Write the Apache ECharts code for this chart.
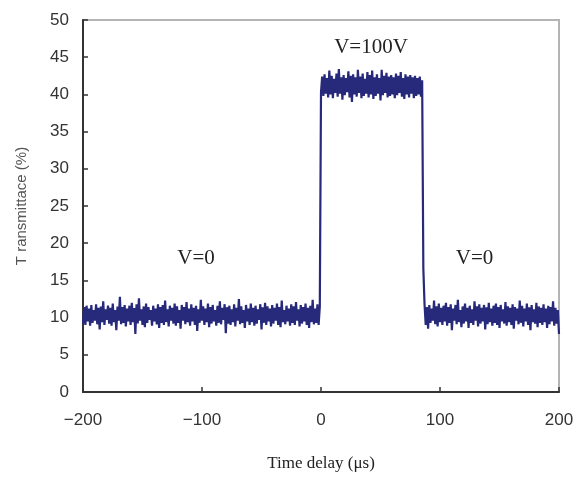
<!DOCTYPE html>
<html>
<head>
<meta charset="utf-8">
<script src="https://cdn.jsdelivr.net/npm/echarts@6/dist/echarts.min.js"></script>
<style>
html,body{margin:0;padding:0;background:#fff;}
#chart{width:579px;height:479px;}
</style>
</head>
<body>
<div id="chart"></div>
<script>
// Time axis ticks (µs) and transmittance tick labels
var xTicks = [-200, -100, 0, 100, 200];
var yTicks = [0, 5, 10, 15, 20, 25, 30, 35, 40, 45, 50];

var offStart = -200; // V=0, t = -200 .. -1
var offBefore = [
9.2, 11.4, 9.0, 11.6, 9.5, 11.2, 8.9, 11.7, 9.3, 11.0, 9.6, 11.8, 9.1, 11.3, 8.4, 11.5, 9.4, 12.2, 9.0, 11.1,
9.7, 11.6, 9.2, 11.3, 8.9, 11.9, 9.4, 11.0, 8.3, 11.5, 9.6, 12.8, 9.1, 11.4, 9.3, 11.7, 8.8, 11.2, 9.5, 11.6,
9.0, 12.0, 9.4, 11.3, 7.8, 11.8, 9.2, 12.6, 9.6, 11.1, 9.0, 11.5, 8.7, 11.9, 9.3, 11.4, 9.7, 11.0, 8.9, 11.6,
9.5, 11.2, 9.1, 11.8, 8.6, 11.4, 9.3, 11.7, 9.0, 12.3, 9.4, 11.1, 8.8, 11.6, 9.6, 11.3, 9.2, 11.9, 8.9, 11.5,
9.3, 11.0, 8.5, 11.7, 9.6, 11.4, 9.1, 12.1, 9.4, 11.2, 8.9, 11.8, 9.5, 11.3, 9.0, 11.6, 8.2, 11.1, 9.3, 12.4,
9.6, 11.5, 9.0, 11.2, 9.4, 11.9, 8.7, 11.4, 9.2, 11.7, 9.5, 11.0, 8.9, 11.6, 9.3, 12.2, 9.1, 11.3, 9.7, 11.8,
7.9, 11.4, 9.2, 11.6, 9.0, 11.1, 9.4, 11.8, 8.8, 11.3, 9.6, 12.5, 9.1, 11.5, 9.3, 11.0, 8.6, 11.7, 9.5, 11.2,
9.0, 11.9, 9.4, 11.3, 8.9, 11.6, 9.2, 11.1, 9.7, 11.8, 8.4, 11.4, 9.3, 12.0, 9.0, 11.5, 9.5, 11.2, 8.8, 11.7,
9.2, 11.3, 9.6, 11.9, 9.0, 11.4, 8.7, 12.3, 9.4, 11.0, 9.1, 11.6, 9.5, 11.2, 8.9, 11.8, 9.3, 11.5, 9.0, 12.1,
9.6, 11.1, 8.8, 11.7, 9.2, 11.4, 9.5, 11.9, 9.0, 11.3, 8.6, 11.6, 9.4, 12.4, 9.1, 11.2, 9.3, 11.8, 9.0, 11.5
];
var onStart = 0; // V=100V, t = 0 .. 85
var onPulse = [
40.3, 42.4, 39.8, 42.7, 40.1, 42.2, 39.6, 43.2, 40.0, 42.5, 39.5, 42.1, 40.2, 42.8, 39.7, 43.4, 40.1, 42.3, 39.3, 42.6,
39.9, 42.2, 40.3, 43.1, 39.6, 42.5, 39.0, 42.7, 40.0, 42.3, 39.7, 43.3, 40.2, 42.4, 39.5, 42.8, 39.8, 42.1, 40.1, 43.0,
39.6, 42.6, 40.0, 43.2, 39.4, 42.3, 39.8, 42.7, 40.1, 42.2, 39.2, 43.3, 39.9, 42.5, 40.2, 42.9, 39.6, 42.4, 39.8, 42.6,
40.0, 42.3, 39.5, 42.8, 39.9, 42.5, 40.2, 43.0, 39.7, 42.2, 39.4, 42.7, 40.0, 42.4, 39.6, 42.6, 40.1, 42.3, 39.5, 42.5,
39.8, 42.2, 40.0, 42.4, 39.7, 41.9
];
var offAfterStart = 86; // V=0, t = 86 .. 200
var offAfter = [
16.6, 11.8, 9.0, 11.4, 8.5, 11.7, 9.3, 11.2, 9.6, 12.3, 9.1, 11.5, 8.8, 11.9, 9.4, 11.3, 9.0, 11.6, 9.5, 12.0,
8.9, 11.4, 9.3, 11.8, 8.3, 11.2, 9.6, 11.7, 9.1, 12.4, 9.4, 11.0, 8.7, 11.5, 9.2, 11.9, 9.5, 11.3, 8.6, 11.6,
9.3, 11.1, 9.0, 12.2, 9.6, 11.5, 8.8, 11.8, 9.2, 11.3, 9.5, 11.7, 8.4, 11.4, 9.1, 12.0, 9.4, 11.2, 8.9, 11.6,
9.3, 11.9, 9.0, 11.4, 8.6, 11.7, 9.5, 11.1, 9.2, 12.1, 8.9, 11.5, 9.4, 11.3, 9.0, 11.8, 8.5, 11.4, 9.6, 11.2,
9.1, 12.3, 9.3, 11.6, 8.8, 11.2, 9.5, 11.9, 9.0, 11.4, 8.3, 11.7, 9.4, 11.1, 9.2, 12.0, 8.7, 11.5, 9.3, 11.3,
9.0, 11.8, 9.4, 11.2, 8.6, 11.6, 9.1, 11.4, 9.5, 12.2, 8.9, 11.3, 9.2, 11.0, 7.8
];

var annotations = [
  {text: 'V=0', t: -105, v: 18},
  {text: 'V=100V', t: 42, v: 46.3},
  {text: 'V=0', t: 129, v: 18}
];

function seg(start, arr) { return arr.map(function (v, i) { return [start + i, v]; }); }
var data = [].concat(seg(offStart, offBefore), seg(onStart, onPulse), seg(offAfterStart, offAfter));

var chart = echarts.init(document.getElementById('chart'), null, {renderer: 'canvas'});
var option = {
  animation: false,
  backgroundColor: '#ffffff',
  grid: {left: 83, right: 20, top: 20, bottom: 87, show: true, borderColor: '#b4b4b4', borderWidth: 2, backgroundColor: 'transparent'},
  xAxis: {
    type: 'value', min: xTicks[0], max: xTicks[xTicks.length - 1], interval: 100,
    name: 'Time delay (\u03bcs)', nameLocation: 'middle', nameGap: 63,
    nameTextStyle: {fontFamily: 'Liberation Serif', fontSize: 17, color: '#222'},
    axisLine: {onZero: false, lineStyle: {color: '#333', width: 2}},
    axisTick: {inside: true, length: 5, lineStyle: {color: '#333', width: 1.5}},
    axisLabel: {fontFamily: 'Liberation Sans', fontSize: 17, color: '#333', margin: 20,
      formatter: function (v) { return v < 0 ? '\u2212' + (-v) : String(v); }},
    splitLine: {show: false}
  },
  yAxis: {
    type: 'value', min: yTicks[0], max: yTicks[yTicks.length - 1], interval: 5,
    name: 'T ransmittace (%)', nameLocation: 'middle', nameGap: 54,
    nameTextStyle: {fontFamily: 'Liberation Sans', fontSize: 15, color: '#555'},
    axisLine: {onZero: false, lineStyle: {color: '#333', width: 2}},
    axisTick: {inside: true, length: 5, lineStyle: {color: '#333', width: 1.5}},
    axisLabel: {fontFamily: 'Liberation Sans', fontSize: 17, color: '#333', margin: 14},
    splitLine: {show: false}
  },
  series: [{
    type: 'line', data: data, showSymbol: false, symbol: 'none',
    lineStyle: {color: '#27297a', width: 2.2, join: 'bevel'}, z: 3
  }]
};
chart.setOption(option);

var graphics = annotations.map(function (a) {
  var p = chart.convertToPixel({gridIndex: 0}, [a.t, a.v]);
  return {type: 'text', x: p[0], y: p[1], z: 10,
    style: {text: a.text, fill: '#222', font: '21px "Liberation Serif"', textAlign: 'center', textVerticalAlign: 'middle'}};
});
chart.setOption({graphic: graphics});
</script>
</body>
</html>
